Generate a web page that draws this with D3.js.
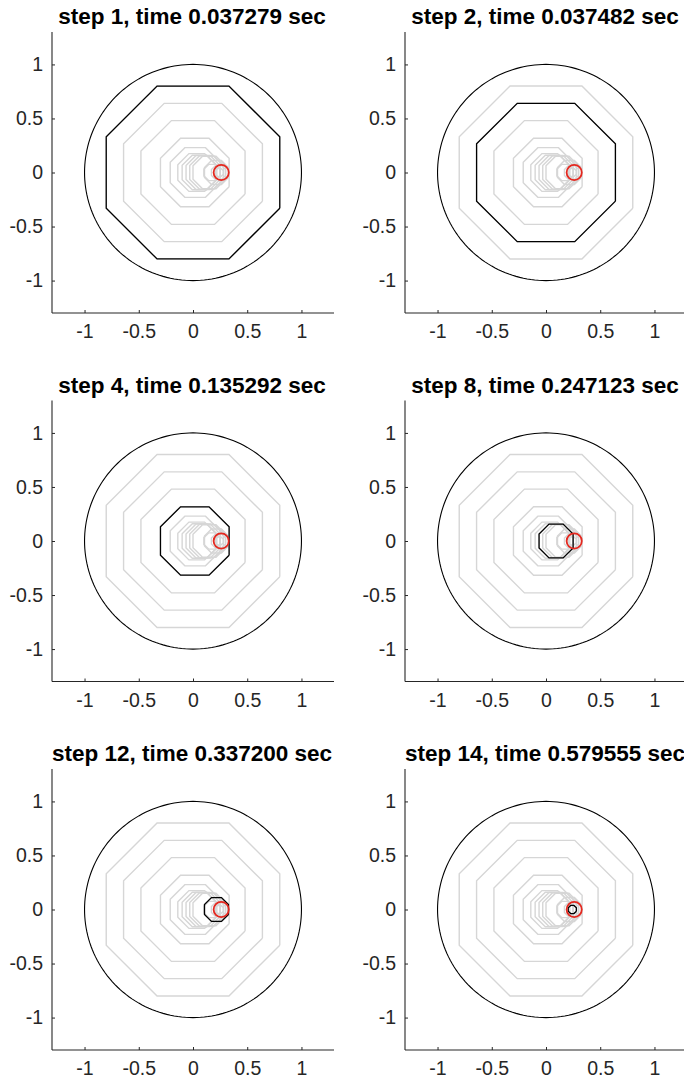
<!DOCTYPE html>
<html>
<head>
<meta charset="utf-8">
<script src="https://cdn.jsdelivr.net/npm/d3@7"></script>
<style>
  body { margin: 0; background: #fff; }
  svg { display: block; }
</style>
</head>
<body>
<div id="chart"></div>
<script>
// steps shown in each panel, with their timing
const panelSteps = [1, 2, 4, 8, 12, 14];
const panelTimes = ["0.037279", "0.037482", "0.135292", "0.247123", "0.337200", "0.579555"];

// octagon per step: left and right x of its flat vertical sides (centred on y = 0)
const octLeft  = [-0.80, -0.64, -0.48, -0.30, -0.21, -0.14, -0.10, -0.064, -0.03, 0.00, 0.10, 0.106, 0.17, 0.205];
const octRight = [ 0.80,  0.64,  0.48,  0.333, 0.25,  0.21,  0.22,  0.25,   0.28, 0.30, 0.25, 0.327, 0.30, 0.280];

// target point (red marker)
const target = [0.26, 0];
const targetRadius = 0.07;

const ticks = [-1, -0.5, 0, 0.5, 1];

const W = 684, H = 1079;
const svg = d3.select("#chart").append("svg").attr("width", W).attr("height", H);

const axW = 282, axH = 281;
const colX = [52, 405];
const rowY = [32, 400.5, 769];
const font = "Liberation Sans, Arial, Helvetica, sans-serif";

const t22 = Math.tan(Math.PI / 8);
function octagon(l, r) {
  const c = (l + r) / 2, a = (r - l) / 2, b = a * t22;
  return [[c + a, -b], [c + a, b], [c + b, a], [c - b, a], [c - a, b], [c - a, -b], [c - b, -a], [c + b, -a], [c + a, -b]];
}

const circlePts = d3.range(0, 361, 2).map(d => [Math.cos(d * Math.PI / 180), Math.sin(d * Math.PI / 180)]);

panelSteps.forEach((step, i) => {
  const ox = colX[i % 2], oy = rowY[Math.floor(i / 2)];
  const g = svg.append("g").attr("transform", `translate(${ox},${oy})`);

  const x = d3.scaleLinear().domain([-1.3, 1.3]).range([0, axW]);
  const y = d3.scaleLinear().domain([-1.3, 1.3]).range([axH, 0]);
  const line = d3.line().x(d => x(d[0])).y(d => y(d[1]));

  // unit circle
  g.append("path").attr("d", line(circlePts)).attr("fill", "none")
    .attr("stroke", "#000").attr("stroke-width", 1.1);

  // history of octagons in gray
  octLeft.forEach((l, k) => {
    g.append("path").attr("d", line(octagon(l, octRight[k])))
      .attr("fill", "none").attr("stroke", "#d6d6d6").attr("stroke-width", 1.4);
  });

  // current step in black
  g.append("path").attr("d", line(octagon(octLeft[step - 1], octRight[step - 1])))
    .attr("fill", "none").attr("stroke", "#000").attr("stroke-width", 1.3);

  // target
  g.append("circle").attr("cx", x(target[0])).attr("cy", y(target[1]))
    .attr("r", x(targetRadius) - x(0)).attr("fill", "none")
    .attr("stroke", "#e4281f").attr("stroke-width", 1.8);

  // axes
  const fmt = d => String(d);
  const xAxis = g.append("g").attr("transform", `translate(0,${axH})`)
    .call(d3.axisBottom(x).tickValues(ticks).tickSize(-3).tickPadding(11).tickFormat(fmt));
  const yAxis = g.append("g")
    .call(d3.axisLeft(y).tickValues(ticks).tickSize(-3).tickPadding(9).tickFormat(fmt));
  [xAxis, yAxis].forEach(a => {
    a.select(".domain").attr("stroke", "#262626").attr("stroke-width", 1.1)
      .attr("d", a === xAxis ? `M0,0H${axW}` : `M0,0V${axH}`);
    a.selectAll(".tick line").attr("stroke", "#262626");
    a.selectAll("text").attr("fill", "#262626").style("font-family", font).style("font-size", "19.5px");
  });
  xAxis.selectAll("text").attr("dy", "0.72em");

  g.append("text").attr("x", axW / 2 - 1).attr("y", -8)
    .attr("text-anchor", "middle")
    .style("font-family", font)
    .style("font-weight", "bold").style("font-size", "22.5px").attr("fill", "#000")
    .text(`step ${step}, time ${panelTimes[i]} sec`);
});
</script>
</body>
</html>
